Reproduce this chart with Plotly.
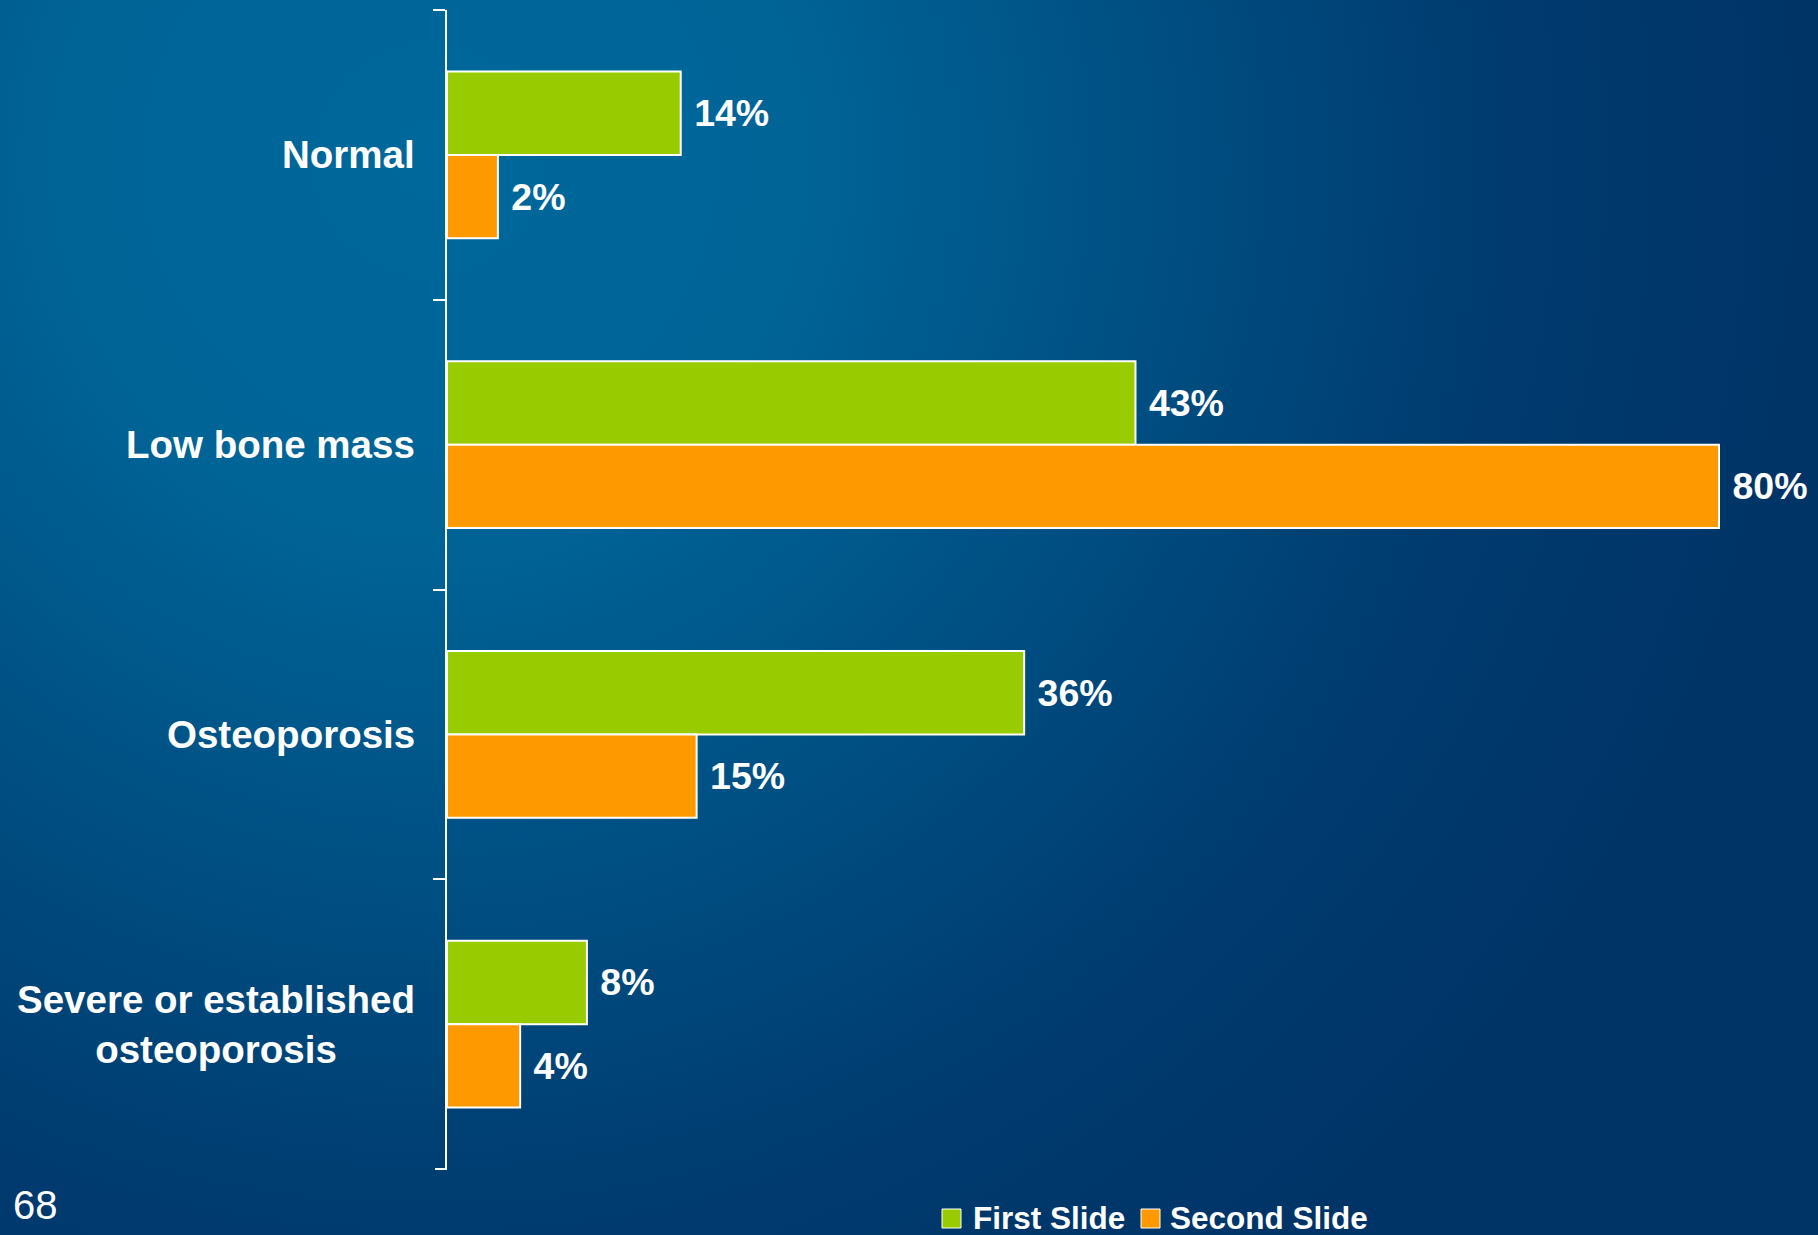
import base64
import plotly.graph_objects as go

# ---- data ----
categories = ["Normal", "Low bone mass", "Osteoporosis", "Severe or established<br>osteoporosis"]
series_names = ["First Slide", "Second Slide"]
first_values = [14.7, 43.3, 36.3, 8.8]
second_values = [3.2, 80.0, 15.7, 4.6]
first_labels = ["14%", "43%", "36%", "8%"]
second_labels = ["2%", "80%", "15%", "4%"]
slide_number = "68"

# ---- style ----
GREEN = "#99CC00"
ORANGE = "#FF9900"
FONT = "Liberation Sans, Arial, sans-serif"
W, H = 1818, 1235
PL, PT, PB = 447, 10, 66
PW, PH = W - PL, H - PT - PB
NBSP = "\u00a0"


def px_x(px):
    return (px - PL) / PW


def px_y(py):
    return (PT + PH - py) / PH


svg = f"""<svg xmlns='http://www.w3.org/2000/svg' width='{W}' height='{H}'>
<defs><radialGradient id='g' gradientUnits='userSpaceOnUse' cx='430' cy='160' r='1450'>
<stop offset='0' stop-color='#00689b'/>
<stop offset='0.25' stop-color='#006497'/>
<stop offset='0.75' stop-color='#003a6e'/>
<stop offset='1' stop-color='#003366'/>
</radialGradient></defs>
<rect x='0' y='0' width='{W}' height='{H}' fill='url(#g)'/></svg>"""
bg_src = "data:image/svg+xml;base64," + base64.b64encode(svg.encode()).decode()

fig = go.Figure()
for name, vals, labs, col in [
    (series_names[0], first_values, first_labels, GREEN),
    (series_names[1], second_values, second_labels, ORANGE),
]:
    fig.add_trace(go.Bar(
        name=name, y=categories, x=vals, orientation="h",
        marker=dict(color=col, line=dict(color="white", width=2)),
        text=[NBSP + l for l in labs], textposition="outside",
        textfont=dict(family=FONT, size=37.5, color="white", weight="bold"),
        cliponaxis=False, constraintext="none", showlegend=False,
    ))

annotations = []
for c in categories:
    annotations.append(dict(
        x=0, xref="paper", y=c, yref="y", xanchor="right", yanchor="middle",
        xshift=-30, text=c, showarrow=False, align="center",
        font=dict(family=FONT, size=38.5, color="white", weight="bold"),
    ))

shapes = []
# bottom boundary tick of the category axis
shapes.append(dict(
    type="line", xref="paper", yref="paper",
    x0=px_x(PL - 12), x1=0, y0=0, y1=0,
    line=dict(color="white", width=2), layer="above",
))

# legend (manual, to get large swatches)
legend_items = [(series_names[0], GREEN, 942, 971), (series_names[1], ORANGE, 1141, 1168)]
for name, col, sx, tx in legend_items:
    shapes.append(dict(
        type="rect", xref="paper", yref="paper",
        x0=px_x(sx), x1=px_x(sx + 19), y0=px_y(1209), y1=px_y(1228),
        fillcolor=col, line=dict(color="white", width=1), layer="above",
    ))
    annotations.append(dict(
        x=px_x(tx), y=px_y(1218), xref="paper", yref="paper",
        xanchor="left", yanchor="middle", text=name, showarrow=False,
        font=dict(family=FONT, size=31.5, color="white", weight="bold"),
    ))

annotations.append(dict(
    x=px_x(11), y=px_y(1205), xref="paper", yref="paper",
    xanchor="left", yanchor="middle", text=slide_number, showarrow=False,
    font=dict(family=FONT, size=40, color="white"),
))

fig.update_layout(
    width=W, height=H,
    margin=dict(l=PL, r=0, t=PT, b=PB, pad=0),
    paper_bgcolor="#004a7c", plot_bgcolor="rgba(0,0,0,0)",
    barmode="group", bargap=0.425, bargroupgap=0,
    showlegend=False,
    xaxis=dict(range=[0, PW / 15.9], visible=False, fixedrange=True),
    yaxis=dict(
        range=[3.5, -0.5], type="category", showticklabels=False,
        showline=True, linecolor="white", linewidth=2,
        ticks="outside", tickson="boundaries", ticklen=12,
        tickcolor="white", tickwidth=2, showgrid=False, zeroline=False,
    ),
    images=[dict(
        source=bg_src, xref="paper", yref="paper",
        x=px_x(0), y=px_y(0), sizex=W / PW, sizey=H / PH,
        xanchor="left", yanchor="top", sizing="stretch", layer="below",
    )],
    shapes=shapes,
    annotations=annotations,
)

fig.write_html(
    "out.html",
    config={"displayModeBar": False},
    post_script="document.body.style.margin='0';document.body.style.padding='0';"
                "document.documentElement.style.overflow='hidden';",
)
